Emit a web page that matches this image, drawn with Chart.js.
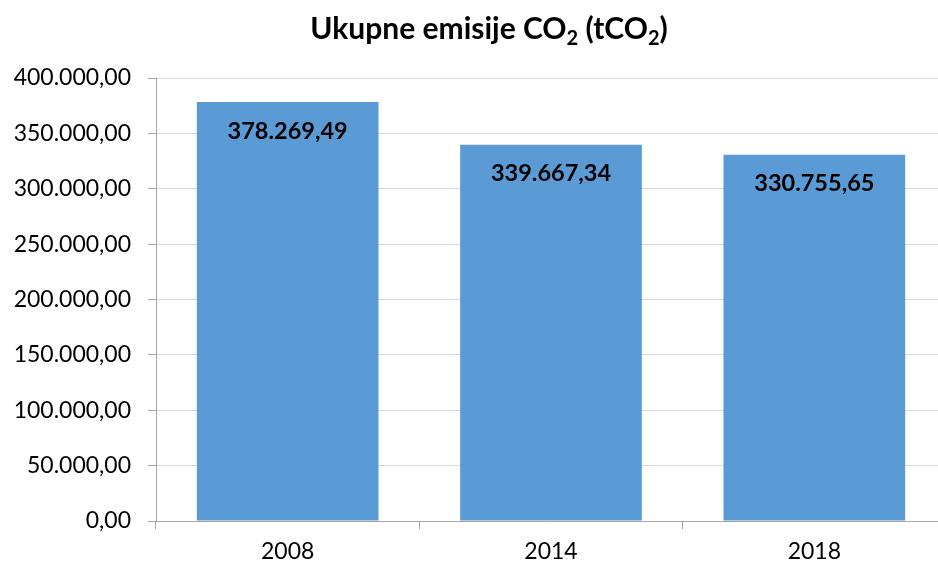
<!DOCTYPE html>
<html>
<head>
<meta charset="utf-8">
<script src="https://cdn.jsdelivr.net/npm/chart.js@4"></script>
<style>
  html, body { margin: 0; padding: 0; background: #fff; overflow: hidden; }
  #wrap { width: 946px; height: 566px; }
</style>
</head>
<body>
<div id="wrap"><canvas id="chart"></canvas></div>
<script>
const years = ['2008', '2014', '2018'];
const emissions = [378269.49, 339667.34, 330755.65];
const yTicks = [0, 50000, 100000, 150000, 200000, 250000, 300000, 350000, 400000];

const FONT = 'Lato, "Open Sans", sans-serif';

// 1.234.567,89 style
const fmt = (v) => v.toLocaleString('de-DE', { minimumFractionDigits: 2, maximumFractionDigits: 2 });

// title with subscript 2's
const titlePlugin = {
  id: 'subTitle',
  afterDraw(chart) {
    const ctx = chart.ctx;
    const parts = [['Ukupne emisije CO', false], ['2', true], [' (tCO', false], ['2', true], [')', false]];
    const big = 'bold 30px ' + FONT;
    const small = 'bold 20px ' + FONT;
    ctx.save();
    let total = 0;
    parts.forEach(([t, sub]) => { ctx.font = sub ? small : big; total += ctx.measureText(t).width; });
    let x = 489 - total / 2;
    ctx.fillStyle = '#000';
    ctx.textBaseline = 'alphabetic';
    parts.forEach(([t, sub]) => {
      ctx.font = sub ? small : big;
      ctx.fillText(t, x, sub ? 45 : 39);
      x += ctx.measureText(t).width;
    });
    ctx.restore();
  }
};

const valueLabels = {
  id: 'valueLabels',
  afterDatasetsDraw(chart) {
    const ctx = chart.ctx;
    const meta = chart.getDatasetMeta(0);
    ctx.save();
    ctx.font = 'bold 23.5px ' + FONT;
    ctx.fillStyle = '#000';
    ctx.textAlign = 'center';
    ctx.textBaseline = 'middle';
    meta.data.forEach((bar, i) => {
      ctx.fillText(fmt(emissions[i]), bar.x, bar.y + 29);
    });
    ctx.restore();
  }
};

new Chart(document.getElementById('chart'), {
  type: 'bar',
  data: {
    labels: years,
    datasets: [{
      data: emissions,
      backgroundColor: '#5B9BD5',
      categoryPercentage: 1,
      barPercentage: 0.69
    }]
  },
  plugins: [titlePlugin, valueLabels],
  options: {
    responsive: true,
    maintainAspectRatio: false,
    animation: false,
    layout: { padding: { top: 78, left: 0, right: 0, bottom: 0 } },
    plugins: { legend: { display: false }, tooltip: { enabled: false } },
    scales: {
      x: {
        grid: { offset: true, drawOnChartArea: false, tickLength: 8, color: '#a6a6a6' },
        border: { color: '#a6a6a6' },
        ticks: { font: { family: FONT, size: 23 }, color: '#000', padding: 9 },
        afterFit(scale) { scale.height = 45; }
      },
      y: {
        min: 0,
        max: 400000,
        afterBuildTicks(scale) { scale.ticks = yTicks.map(v => ({ value: v })); },
        grid: { color: '#d9d9d9', tickLength: 8, tickColor: '#a6a6a6' },
        border: { color: '#a6a6a6' },
        ticks: { font: { family: FONT, size: 23 }, color: '#000', padding: 17, callback: (v) => fmt(v) },
        afterFit(scale) { scale.width = 156; }
      }
    }
  }
});
</script>
</body>
</html>
